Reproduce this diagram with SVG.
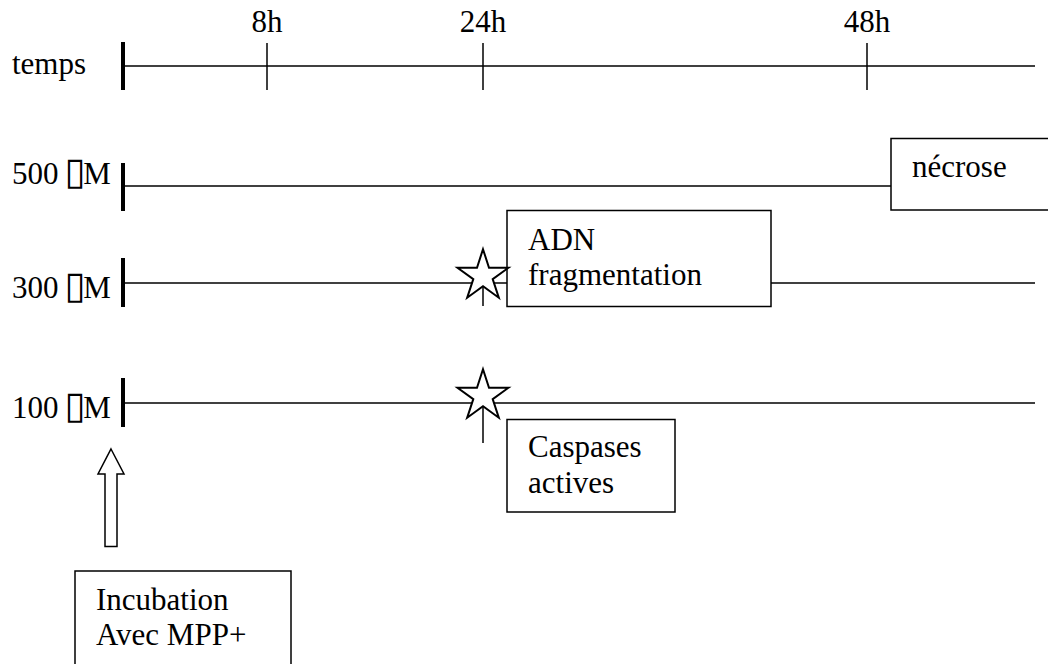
<svg xmlns="http://www.w3.org/2000/svg" width="1048" height="664" viewBox="0 0 1048 664">
<style>
text{font-family:"Liberation Serif","Times New Roman",serif;font-size:31px;fill:#000}
.ln{stroke:#000;stroke-width:1.5;fill:none}
.bar{stroke:#000;stroke-width:4;fill:none}
.box{stroke:#000;stroke-width:1.5;fill:#fff}
.star{stroke:#000;stroke-width:2;fill:#fff;stroke-linejoin:miter}
.tofu{font-family:"DejaVu Sans",sans-serif;font-size:38px}
</style>
<defs>
<polygon id="starShape" points="0,-26.8 6,-8.3 25.5,-8.3 9.7,3.1 15.8,21.7 0,10.2 -15.8,21.7 -9.7,3.1 -25.5,-8.3 -6,-8.3"/>
</defs>
<rect width="1048" height="664" fill="#fff"/>
<g id="connectors">
<line class="ln" x1="123" y1="66" x2="1035" y2="66"/>
<line class="ln" x1="123" y1="186" x2="891" y2="186"/>
<line class="ln" x1="123" y1="283" x2="507" y2="283"/>
<line class="ln" x1="771" y1="283" x2="1035" y2="283"/>
<line class="ln" x1="123" y1="403" x2="1035" y2="403"/>
<line class="ln" x1="483" y1="276" x2="483" y2="306"/>
<line class="ln" x1="483" y1="396" x2="483" y2="443"/>
</g>
<g id="axis-temps">
<text x="12" y="74">temps</text>
<line class="bar" x1="123" y1="42" x2="123" y2="90"/>
<line class="ln" x1="267" y1="43" x2="267" y2="90"/>
<line class="ln" x1="483" y1="43" x2="483" y2="90"/>
<line class="ln" x1="867" y1="43" x2="867" y2="90"/>
<text x="267" y="32" text-anchor="middle">8h</text>
<text x="483" y="32" text-anchor="middle">24h</text>
<text x="867" y="32" text-anchor="middle">48h</text>
</g>
<g id="row-500">
<text x="12" y="184">500 <tspan class="tofu" dx="-2">▯</tspan><tspan dx="-2">M</tspan></text>
<line class="bar" x1="123" y1="163" x2="123" y2="211"/>
</g>
<g id="row-300">
<text x="12" y="298">300 <tspan class="tofu" dx="-2">▯</tspan><tspan dx="-2">M</tspan></text>
<line class="bar" x1="123" y1="258" x2="123" y2="307"/>
</g>
<g id="row-100">
<text x="12" y="418">100 <tspan class="tofu" dx="-2">▯</tspan><tspan dx="-2">M</tspan></text>
<line class="bar" x1="123" y1="378" x2="123" y2="427"/>
</g>
<g id="necrose">
<rect class="box" x="891" y="138.5" width="200" height="71.5"/>
<text x="912" y="177">nécrose</text>
</g>
<g id="adn">
<rect class="box" x="507" y="210.5" width="264" height="96"/>
<text x="528" y="250">ADN</text>
<text x="528" y="285">fragmentation</text>
</g>
<g id="star-300">
<use href="#starShape" class="star" transform="translate(483,276)"/>
</g>
<g id="star-100">
<use href="#starShape" class="star" transform="translate(483,396)"/>
</g>
<g id="caspases">
<rect class="box" x="507" y="419.5" width="168" height="92.5"/>
<text x="528" y="457">Caspases</text>
<text x="528" y="493">actives</text>
</g>
<g id="arrow-incubation">
<polygon class="box" points="111,449 124,474 117,474 117,546.5 105,546.5 105,474 98,474"/>
</g>
<g id="incubation">
<rect class="box" x="75" y="571" width="216" height="120"/>
<text x="96" y="610">Incubation</text>
<text x="96" y="645">Avec MPP+</text>
</g>
</svg>
